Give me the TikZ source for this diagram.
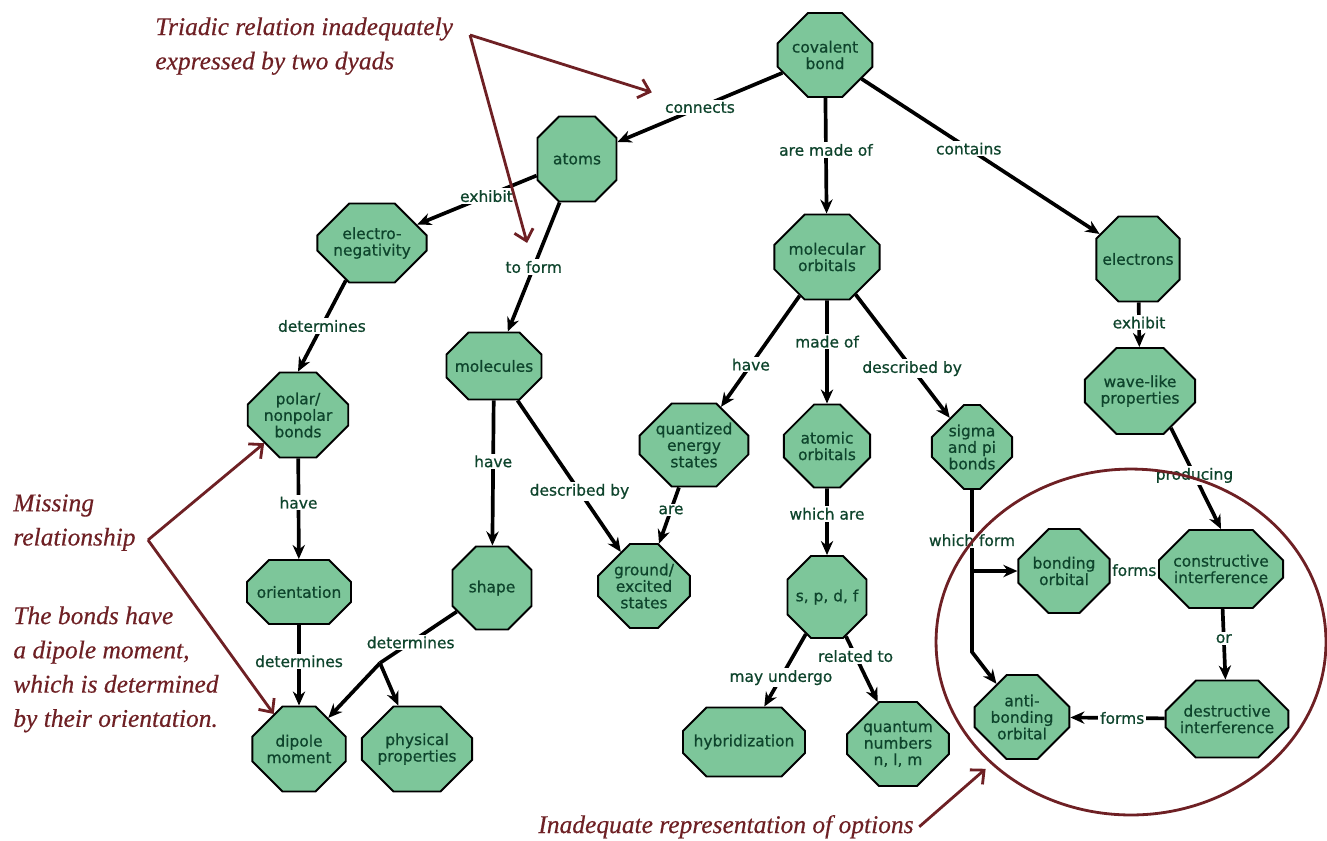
\documentclass[tikz,border=0pt]{standalone}
\usepackage{fontspec}
\setmainfont[FakeBold=0.7]{DejaVu Sans}
\newfontfamily\notefont[FakeBold=0.4]{Liberation Serif}
\usetikzlibrary{shapes.misc, shapes.geometric, arrows.meta}
\definecolor{octfill}{RGB}{125,198,154}
\definecolor{octtext}{RGB}{14,68,44}
\definecolor{notered}{RGB}{110,32,36}

\begin{document}
\begin{tikzpicture}[
    x=0.02cm, y=-0.02cm,
    oct/.style={chamfered rectangle, chamfered rectangle sep=0.32cm,
                draw, line width=1.1pt, fill=octfill, text=octtext,
                inner sep=0pt, align=center,
                font=\fontsize{8.8}{9.4}\selectfont},
    link/.style={-{Stealth[length=8pt, width=7pt]}, line width=2.1pt},
    lbl/.style={fill=white, inner sep=1pt, text=octtext,
                font=\fontsize{8.8}{9.4}\selectfont},
    note/.style={text=notered, align=left, inner sep=0pt,
                 font=\notefont\itshape\fontsize{14.5}{19.5}\selectfont},
    notearrow/.style={-{Straight Barb[length=6pt, width=11pt]},
                      draw=notered, line width=1.6pt},
  ]
  \useasboundingbox (0,0) rectangle (1327,840);

  % Concepts
  \node[oct, minimum width=1.6cm, minimum height=1.68cm] (cb) at (825,55) {covalent\\bond};
  \node[oct, minimum width=1.58cm, minimum height=1.7cm] (atoms) at (577,159) {atoms};
  \node[oct, minimum width=1.96cm, minimum height=1.58cm] (eneg) at (372,243) {electro-\\negativity};
  \node[oct, minimum width=1.6cm, minimum height=1.7cm] (pnb) at (298,415) {polar/\\nonpolar\\bonds};
  \node[oct, minimum width=2.08cm, minimum height=1.28cm] (orient) at (299,592) {orientation};
  \node[oct, minimum width=1.56cm, minimum height=1.7cm] (dipole) at (299,749) {dipole\\moment};
  \node[oct, minimum width=1.8cm, minimum height=1.7cm] (phys) at (417,749) {physical\\properties};
  \node[oct, minimum width=1.9cm, minimum height=1.34cm] (mol) at (494,366) {molecules};
  \node[oct, minimum width=1.58cm, minimum height=1.66cm] (shape) at (492,588) {shape};
  \node[oct, minimum width=1.56cm, minimum height=1.68cm] (gstate) at (644,586) {ground/\\excited\\states};
  \node[oct, minimum width=1.82cm, minimum height=1.66cm] (qes) at (694,445) {quantized\\energy\\states};
  \node[oct, minimum width=1.76cm, minimum height=1.7cm] (morb) at (827,257) {molecular\\orbitals};
  \node[oct, minimum width=1.58cm, minimum height=1.66cm] (aorb) at (827,446) {atomic\\orbitals};
  \node[oct, minimum width=1.58cm, minimum height=1.64cm] (spdf) at (827,597) {s, p, d, f};
  \node[oct, minimum width=2.44cm, minimum height=1.38cm] (hyb) at (744,742) {hybridization};
  \node[oct, minimum width=1.6cm, minimum height=1.68cm] (qnum) at (898,744) {quantum\\numbers\\n, l, m};
  \node[oct, minimum width=1.56cm, minimum height=1.68cm] (spb) at (972,447) {sigma\\and pi\\bonds};
  \node[oct, minimum width=1.6cm, minimum height=1.7cm] (elec) at (1138,259) {electrons};
  \node[oct, minimum width=1.88cm, minimum height=1.72cm] (wave) at (1140,391) {wave-like\\properties};
  \node[oct, minimum width=1.56cm, minimum height=1.68cm] (bond) at (1064,571) {bonding\\orbital};
  \node[oct, minimum width=2.44cm, minimum height=1.56cm] (cons) at (1221,569) {constructive\\interference};
  \node[oct, minimum width=1.56cm, minimum height=1.68cm] (anti) at (1022,717) {anti-\\bonding\\orbital};
  \node[oct, minimum width=2.2cm, minimum height=1.54cm] (dest) at (1227,719) {destructive\\interference};

  % Branch points
  \coordinate (split) at (380,663);
  \coordinate (wf1) at (972,571);
  \coordinate (wf2) at (972,652);

  % Links
  \draw[link] (cb) -- node[lbl, pos=0.5] (lconn) {connects} (atoms);
  \draw[link] (cb) -- node[lbl, pos=0.45] {are made of} (morb);
  \draw[link] (cb) -- node[lbl, pos=0.45] {contains} (elec);
  \draw[link] (atoms) -- node[lbl, pos=0.42] {exhibit} (eneg);
  \draw[link] (atoms) -- node[lbl, pos=0.5] (lform) {to form} (mol);
  \draw[link] (eneg.235) -- node[lbl] {determines} (pnb.north);
  \draw[link] (pnb) -- node[lbl, pos=0.44] {have} (orient);
  \draw[link] (orient) -- node[lbl, pos=0.45] {determines} (dipole);
  \draw[link] (mol) -- node[lbl, pos=0.42] {have} (shape);
  \draw[link] (mol) -- node[lbl, pos=0.6] {described by} (gstate);
  \draw[line width=2.1pt] (shape) -- node[lbl, pos=0.6] {determines} (split);
  \draw[link] (split) -- (dipole);
  \draw[link] (split) -- (phys);
  \draw[link] (morb) -- node[lbl, pos=0.62] {have} (qes);
  \draw[link] (morb) -- node[lbl, pos=0.4] {made of} (aorb);
  \draw[link] (morb) -- node[lbl, pos=0.6] {described by} (spb);
  \draw[link] (qes) -- node[lbl, pos=0.4] {are} (gstate);
  \draw[link] (aorb) -- node[lbl, pos=0.38] {which are} (spdf);
  \draw[link] (spdf) -- node[lbl, pos=0.6] {may undergo} (hyb);
  \draw[link] (spdf) -- node[lbl, pos=0.3] {related to} (qnum);
  \draw[link] (elec) -- node[lbl, pos=0.45] {exhibit} (wave);
  \draw[link] (wave.310) -- node[lbl, pos=0.47] {producing} (cons.north);
  \draw[link] (spb) -- node[lbl, pos=0.31] {which form} (wf2) -- (anti);
  \draw[link] (wf1) -- (bond);
  \draw[link] (cons) -- node[lbl, pos=0.5] {forms} (bond);
  \draw[link] (cons) -- node[lbl, pos=0.42] {or} (dest);
  \draw[link] (dest) -- node[lbl, pos=0.45] {forms} (anti);

  % Annotations
  \node[note, anchor=north west] (triadic) at (155,17) {Triadic relation inadequately\\expressed by two dyads};
  \node[note, anchor=north west] (missing) at (13,494) {Missing\\relationship};
  \node[note, anchor=north west] (bonds) at (13,606) {The bonds have\\a dipole moment,\\which is determined\\by their orientation.};
  \node[note, anchor=base west] (inad) at (538,833) {Inadequate representation of options};
  \node[ellipse, draw=notered, line width=1.6pt, minimum width=7.8cm,
        minimum height=6.92cm, inner sep=0pt] (opts) at (1131,642) {};

  \coordinate (tv) at (470,35);
  \coordinate (mv) at (148,540);
  \draw[notearrow, shorten >=0.4cm] (tv) -- (lconn);
  \draw[notearrow, shorten >=0.3cm] (tv) -- (lform);
  \draw[notearrow] (mv) -- (pnb);
  \draw[notearrow] (mv) -- (dipole);
  \draw[notearrow, shorten >=4pt] ([xshift=3pt]inad.east) -- (opts);
\end{tikzpicture}
\end{document}
